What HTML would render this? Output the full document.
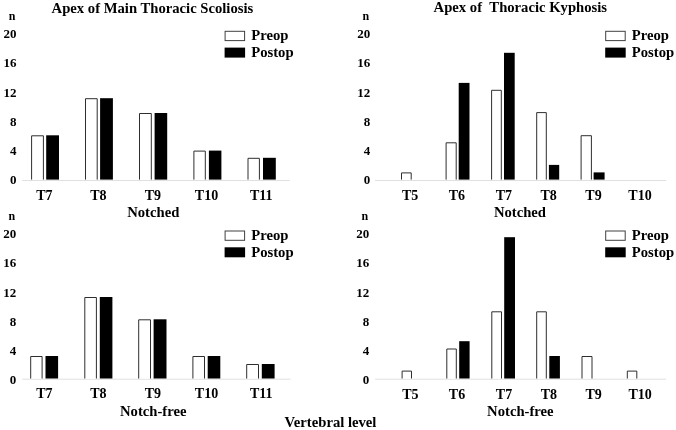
<!DOCTYPE html>
<html lang="en">
<head>
<meta charset="utf-8">
<title>Apex of Main Thoracic Scoliosis / Apex of Thoracic Kyphosis</title>
<style>
html,body{margin:0;padding:0;background:#fff;}
body{width:676px;height:430px;overflow:hidden;}
svg{display:block;will-change:transform;}
svg text{font-family:"Liberation Serif","Times New Roman",Times,serif;font-weight:bold;fill:#000;}
</style>
</head>
<body>
<svg width="676" height="430" viewBox="0 0 676 430">
<rect x="0" y="0" width="676" height="430" fill="#fff"/>
<rect x="22.30" y="180.00" width="267.30" height="1" fill="#e0e0e0"/>
<path d="M31.60 179.60V135.80H43.40V179.60" fill="#fff" stroke="#2e2e2e" stroke-width="1"/>
<rect x="46.20" y="135.30" width="12.80" height="44.30" fill="#000"/>
<path d="M85.50 179.60V98.70H97.20V179.60" fill="#fff" stroke="#2e2e2e" stroke-width="1"/>
<rect x="100.10" y="98.20" width="12.80" height="81.40" fill="#000"/>
<path d="M139.50 179.60V113.50H151.30V179.60" fill="#fff" stroke="#2e2e2e" stroke-width="1"/>
<rect x="154.60" y="113.00" width="12.60" height="66.60" fill="#000"/>
<path d="M193.90 179.60V151.10H205.30V179.60" fill="#fff" stroke="#2e2e2e" stroke-width="1"/>
<rect x="208.90" y="150.60" width="12.50" height="29.00" fill="#000"/>
<path d="M248.00 179.60V158.30H259.40V179.60" fill="#fff" stroke="#2e2e2e" stroke-width="1"/>
<rect x="263.00" y="157.80" width="12.80" height="21.80" fill="#000"/>
<rect x="375.00" y="180.00" width="291.20" height="1" fill="#e0e0e0"/>
<path d="M401.50 179.60V172.90H411.20V179.60" fill="#fff" stroke="#2e2e2e" stroke-width="1"/>
<path d="M446.10 179.60V142.80H456.20V179.60" fill="#fff" stroke="#2e2e2e" stroke-width="1"/>
<rect x="458.70" y="82.90" width="10.80" height="96.70" fill="#000"/>
<path d="M491.60 179.60V90.30H501.30V179.60" fill="#fff" stroke="#2e2e2e" stroke-width="1"/>
<rect x="504.00" y="52.80" width="10.70" height="126.80" fill="#000"/>
<path d="M536.70 179.60V112.60H546.30V179.60" fill="#fff" stroke="#2e2e2e" stroke-width="1"/>
<rect x="548.90" y="164.90" width="10.30" height="14.70" fill="#000"/>
<path d="M581.10 179.60V135.70H591.40V179.60" fill="#fff" stroke="#2e2e2e" stroke-width="1"/>
<rect x="593.60" y="172.40" width="11.00" height="7.20" fill="#000"/>
<rect x="22.30" y="378.70" width="268.20" height="1" fill="#e0e0e0"/>
<path d="M30.70 378.50V356.50H42.10V378.50" fill="#fff" stroke="#2e2e2e" stroke-width="1"/>
<rect x="45.50" y="356.00" width="12.60" height="22.50" fill="#000"/>
<path d="M84.80 378.50V297.50H96.40V378.50" fill="#fff" stroke="#2e2e2e" stroke-width="1"/>
<rect x="99.80" y="297.00" width="12.60" height="81.50" fill="#000"/>
<path d="M138.70 378.50V319.80H150.50V378.50" fill="#fff" stroke="#2e2e2e" stroke-width="1"/>
<rect x="153.60" y="319.30" width="12.90" height="59.20" fill="#000"/>
<path d="M192.90 378.50V356.50H204.50V378.50" fill="#fff" stroke="#2e2e2e" stroke-width="1"/>
<rect x="207.70" y="356.00" width="12.60" height="22.50" fill="#000"/>
<path d="M246.70 378.50V364.50H258.50V378.50" fill="#fff" stroke="#2e2e2e" stroke-width="1"/>
<rect x="261.80" y="364.00" width="12.80" height="14.50" fill="#000"/>
<rect x="375.00" y="378.70" width="291.20" height="1" fill="#e0e0e0"/>
<path d="M402.10 378.50V371.10H411.50V378.50" fill="#fff" stroke="#2e2e2e" stroke-width="1"/>
<path d="M446.80 378.50V349.00H456.30V378.50" fill="#fff" stroke="#2e2e2e" stroke-width="1"/>
<rect x="459.20" y="341.20" width="10.40" height="37.30" fill="#000"/>
<path d="M491.80 378.50V311.80H501.50V378.50" fill="#fff" stroke="#2e2e2e" stroke-width="1"/>
<rect x="504.20" y="237.20" width="10.80" height="141.30" fill="#000"/>
<path d="M536.70 378.50V311.80H546.30V378.50" fill="#fff" stroke="#2e2e2e" stroke-width="1"/>
<rect x="549.30" y="356.00" width="10.60" height="22.50" fill="#000"/>
<path d="M582.00 378.50V356.50H592.00V378.50" fill="#fff" stroke="#2e2e2e" stroke-width="1"/>
<path d="M627.30 378.50V371.10H636.80V378.50" fill="#fff" stroke="#2e2e2e" stroke-width="1"/>
<text x="16.40" y="38.00" font-size="13" text-anchor="end">20</text>
<text x="16.40" y="67.00" font-size="13" text-anchor="end">16</text>
<text x="16.40" y="97.00" font-size="13" text-anchor="end">12</text>
<text x="16.40" y="126.00" font-size="13" text-anchor="end">8</text>
<text x="16.40" y="155.00" font-size="13" text-anchor="end">4</text>
<text x="16.40" y="184.00" font-size="13" text-anchor="end">0</text>
<text x="15.40" y="20.00" font-size="12" text-anchor="end">n</text>
<text x="370.30" y="38.00" font-size="13" text-anchor="end">20</text>
<text x="370.30" y="67.00" font-size="13" text-anchor="end">16</text>
<text x="370.30" y="97.00" font-size="13" text-anchor="end">12</text>
<text x="370.30" y="126.00" font-size="13" text-anchor="end">8</text>
<text x="370.30" y="155.00" font-size="13" text-anchor="end">4</text>
<text x="370.30" y="184.00" font-size="13" text-anchor="end">0</text>
<text x="369.30" y="20.00" font-size="12" text-anchor="end">n</text>
<text x="16.30" y="238.00" font-size="13" text-anchor="end">20</text>
<text x="16.30" y="267.00" font-size="13" text-anchor="end">16</text>
<text x="16.30" y="297.00" font-size="13" text-anchor="end">12</text>
<text x="16.30" y="326.00" font-size="13" text-anchor="end">8</text>
<text x="16.30" y="355.00" font-size="13" text-anchor="end">4</text>
<text x="16.30" y="384.00" font-size="13" text-anchor="end">0</text>
<text x="15.30" y="220.00" font-size="12" text-anchor="end">n</text>
<text x="369.30" y="238.00" font-size="13" text-anchor="end">20</text>
<text x="369.30" y="267.00" font-size="13" text-anchor="end">16</text>
<text x="369.30" y="297.00" font-size="13" text-anchor="end">12</text>
<text x="369.30" y="326.00" font-size="13" text-anchor="end">8</text>
<text x="369.30" y="355.00" font-size="13" text-anchor="end">4</text>
<text x="369.30" y="384.00" font-size="13" text-anchor="end">0</text>
<text x="368.30" y="220.00" font-size="12" text-anchor="end">n</text>
<text x="44.30" y="200.00" font-size="14" text-anchor="middle">T7</text>
<text x="44.30" y="398.00" font-size="14" text-anchor="middle">T7</text>
<text x="98.40" y="200.00" font-size="14" text-anchor="middle">T8</text>
<text x="98.40" y="398.00" font-size="14" text-anchor="middle">T8</text>
<text x="152.80" y="200.00" font-size="14" text-anchor="middle">T9</text>
<text x="152.80" y="398.00" font-size="14" text-anchor="middle">T9</text>
<text x="206.50" y="200.00" font-size="14" text-anchor="middle">T10</text>
<text x="206.50" y="398.00" font-size="14" text-anchor="middle">T10</text>
<text x="261.30" y="200.00" font-size="14" text-anchor="middle">T11</text>
<text x="261.30" y="398.00" font-size="14" text-anchor="middle">T11</text>
<text x="410.20" y="200.00" font-size="14" text-anchor="middle">T5</text>
<text x="410.30" y="399.00" font-size="14" text-anchor="middle">T5</text>
<text x="456.90" y="200.00" font-size="14" text-anchor="middle">T6</text>
<text x="457.00" y="399.00" font-size="14" text-anchor="middle">T6</text>
<text x="503.90" y="200.00" font-size="14" text-anchor="middle">T7</text>
<text x="504.00" y="399.00" font-size="14" text-anchor="middle">T7</text>
<text x="548.70" y="200.00" font-size="14" text-anchor="middle">T8</text>
<text x="548.80" y="399.00" font-size="14" text-anchor="middle">T8</text>
<text x="593.50" y="200.00" font-size="14" text-anchor="middle">T9</text>
<text x="593.60" y="399.00" font-size="14" text-anchor="middle">T9</text>
<text x="640.00" y="200.00" font-size="14" text-anchor="middle">T10</text>
<text x="640.10" y="399.00" font-size="14" text-anchor="middle">T10</text>
<text x="51.60" y="13.00" font-size="14.67" text-anchor="start">Apex of Main Thoracic Scoliosis</text>
<text x="433.60" y="12.00" font-size="14.67" text-anchor="start">Apex of  Thoracic Kyphosis</text>
<text x="127.20" y="217.00" font-size="14.67" text-anchor="start">Notched</text>
<text x="493.90" y="217.00" font-size="14.67" text-anchor="start">Notched</text>
<text x="120.00" y="416.00" font-size="14.67" text-anchor="start">Notch-free</text>
<text x="487.10" y="416.00" font-size="14.67" text-anchor="start">Notch-free</text>
<text x="284.60" y="427.00" font-size="14.67" text-anchor="start">Vertebral level</text>
<rect x="225.10" y="31.30" width="19.5" height="9.3" fill="#fff" stroke="#404040" stroke-width="1"/>
<rect x="224.60" y="47.60" width="20.5" height="10" fill="#000"/>
<text x="251.20" y="40.00" font-size="14.67" text-anchor="start">Preop</text>
<text x="251.20" y="57.00" font-size="14.67" text-anchor="start">Postop</text>
<rect x="605.70" y="31.30" width="19.5" height="9.3" fill="#fff" stroke="#404040" stroke-width="1"/>
<rect x="605.20" y="47.60" width="20.5" height="10" fill="#000"/>
<text x="631.80" y="40.00" font-size="14.67" text-anchor="start">Preop</text>
<text x="631.80" y="57.00" font-size="14.67" text-anchor="start">Postop</text>
<rect x="225.10" y="231.00" width="19.5" height="9.3" fill="#fff" stroke="#404040" stroke-width="1"/>
<rect x="224.60" y="247.30" width="20.5" height="10" fill="#000"/>
<text x="251.20" y="240.00" font-size="14.67" text-anchor="start">Preop</text>
<text x="251.20" y="257.00" font-size="14.67" text-anchor="start">Postop</text>
<rect x="605.70" y="231.00" width="19.5" height="9.3" fill="#fff" stroke="#404040" stroke-width="1"/>
<rect x="605.20" y="247.30" width="20.5" height="10" fill="#000"/>
<text x="631.80" y="240.00" font-size="14.67" text-anchor="start">Preop</text>
<text x="631.80" y="257.00" font-size="14.67" text-anchor="start">Postop</text>
</svg>
</body>
</html>
